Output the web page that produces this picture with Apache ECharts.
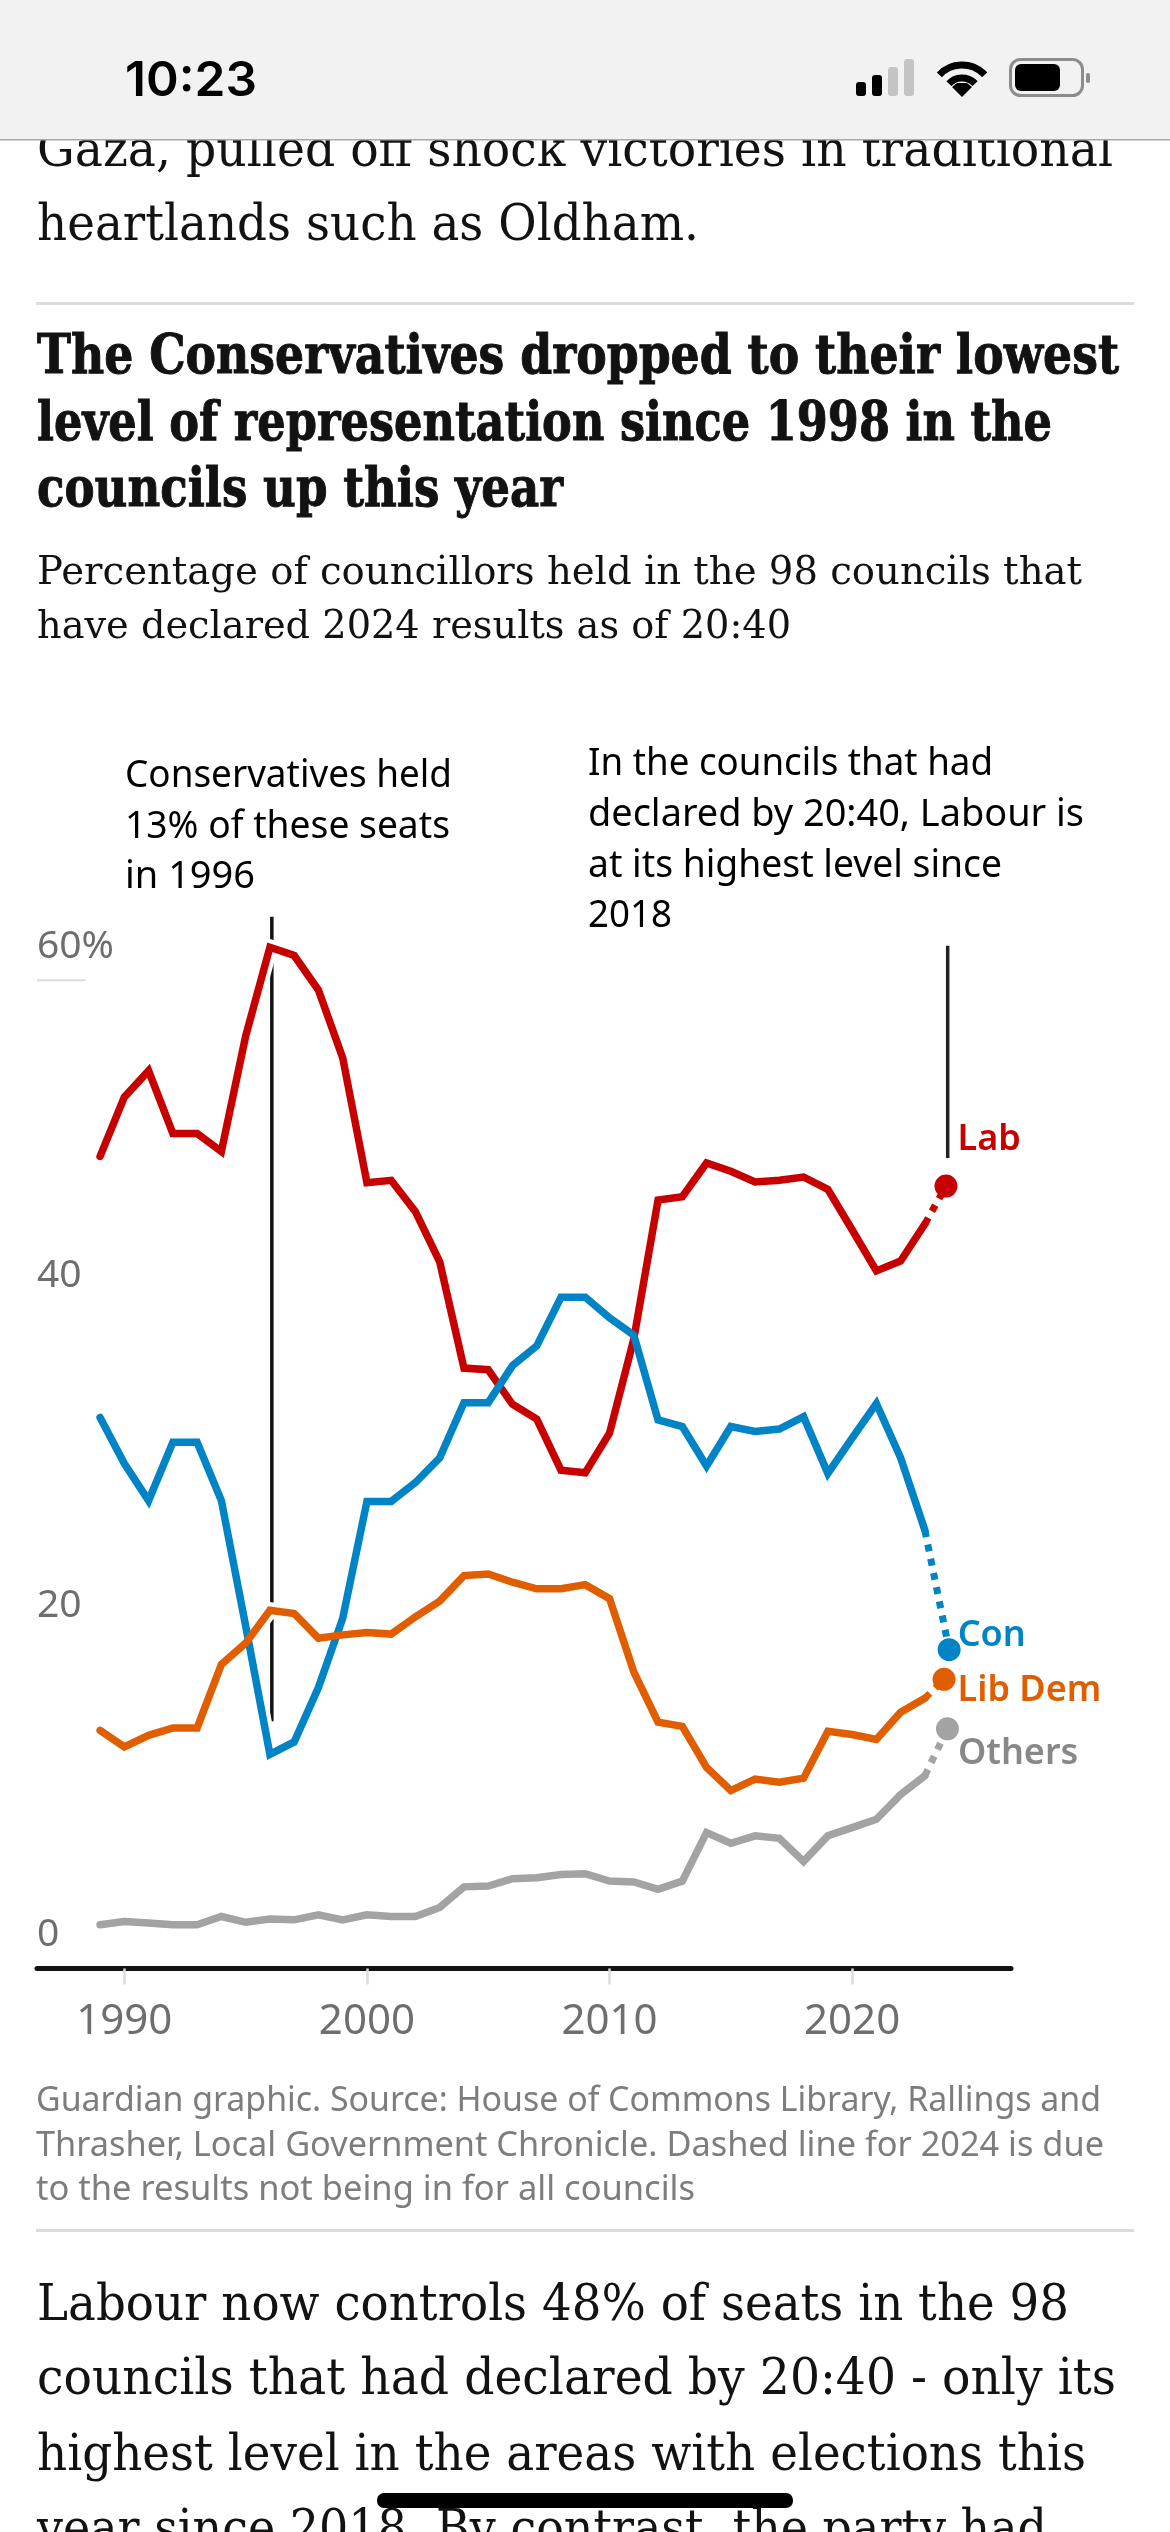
<!DOCTYPE html>
<html>
<head>
<meta charset="utf-8">
<script src="https://cdn.jsdelivr.net/npm/echarts@6/dist/echarts.min.js"></script>
<style>html,body{margin:0;padding:0;background:#fff}#c{width:1170px;height:2532px}</style>
</head>
<body>
<div id="c"></div>
<script>
const years = [1989,1990,1991,1992,1993,1994,1995,1996,1997,1998,1999,2000,2001,2002,2003,2004,2005,2006,2007,2008,2009,2010,2011,2012,2013,2014,2015,2016,2017,2018,2019,2020,2021,2022,2023];
const labValues = [49.3,52.9,54.5,50.7,50.7,49.6,56.6,62.0,61.5,59.4,55.3,47.7,47.85,45.95,42.9,36.45,36.35,34.25,33.35,30.25,30.1,32.5,38.2,46.65,46.85,48.9,48.4,47.75,47.85,48.05,47.3,44.85,42.35,42.95,45.2];
const conValues = [33.45,30.65,28.4,31.95,31.95,28.4,20.8,13.0,13.75,17.05,21.25,28.35,28.35,29.5,31.0,34.35,34.35,36.6,37.8,40.75,40.75,39.5,38.45,33.3,32.9,30.5,32.9,32.6,32.75,33.5,30.05,32.2,34.3,31.0,26.6];
const libDemValues = [14.45,13.45,14.15,14.6,14.6,18.45,19.75,21.75,21.55,20.05,20.25,20.4,20.3,21.35,22.3,23.85,23.95,23.45,23.05,23.05,23.3,22.45,18.0,14.95,14.7,12.2,10.8,11.5,11.3,11.55,14.4,14.2,13.9,15.55,16.4];
const othersValues = [2.65,2.85,2.75,2.65,2.65,3.15,2.8,3.0,2.95,3.25,2.95,3.25,3.15,3.15,3.7,4.95,5.0,5.45,5.5,5.7,5.75,5.3,5.25,4.8,5.3,8.25,7.6,8.05,7.9,6.5,8.05,8.55,9.05,10.55,11.7];
const latest = {Lab:[2023.87,47.5], Con:[2024,19.35], LibDem:[2023.79,17.55], Others:[2023.93,14.55]};
const xTicks = [1990,2000,2010,2020];
const yTicks = [0,20,40,60];
const note1996 = [[1996.08,63.85],[1996.08,15]];
const note2024 = [[2023.94,62.1],[2023.94,49.2]];
const tick60 = [[1986.4,60],[1988.4,60]];

const colors = {Lab:'#c70000', Con:'#0084c6', LibDem:'#e05e00', Others:'#a3a3a3'};
const labelColors = {Lab:'#c70000', Con:'#0084c6', LibDem:'#e05e00', Others:'#888888'};

const chart = echarts.init(document.getElementById('c'), null, {renderer:'canvas', width:1170, height:2532});
const ctx = document.createElement('canvas').getContext('2d');
const SERIF = '"DejaVu Serif"', SANS = '"Noto Sans"';

function line(text, x, baseline, right, size, family, fill, weight, z, heavy){
  ctx.font = (weight||'normal')+' '+size+'px '+family;
  const w = ctx.measureText(text).width;
  const style = {text:text, fontSize:size, fontFamily:family, fontWeight:weight||'normal', fill:fill, align:'left', verticalAlign:'middle'};
  if (heavy) { style.stroke = fill; style.lineWidth = heavy; }
  return {type:'text', x:x, y:baseline-0.36*size+3.5, z:z||5, scaleX:(right-x)/w, silent:true, style:style};
}
const rect = (x,y,w,h,fill,r,z)=>({type:'rect', z:z||5, silent:true, shape:{x,y,width:w,height:h,r:r||0}, style:{fill}});

const page = [
  line('Gaza, pulled off shock victories in traditional',37,168,1113,50,SERIF,'#121212'),
  line('heartlands such as Oldham.',37,242,699,50,SERIF,'#121212'),
  rect(36,302,1098,3,'#dcdcdc'),
  line('The Conservatives dropped to their lowest',37,375,1119,54,SERIF,'#121212','bold',5,1),
  line('level of representation since 1998 in the',37,442,1052,54,SERIF,'#121212','bold',5,1),
  line('councils up this year',37,508,563,54,SERIF,'#121212','bold',5,1),
  line('Percentage of councillors held in the 98 councils that',37,585,1082,40,SERIF,'#121212'),
  line('have declared 2024 results as of 20:40',37,639,791,40,SERIF,'#121212'),
  line('Conservatives held',125,786,452,38,SANS,'#000'),
  line('13% of these seats',125,837,450,38,SANS,'#000'),
  line('in 1996',125,887,255,38,SANS,'#000'),
  line('In the councils that had',588,774,993,38,SANS,'#000'),
  line('declared by 20:40, Labour is',588,825,1084,38,SANS,'#000'),
  line('at its highest level since',588,876,1002,38,SANS,'#000'),
  line('2018',588,926,672,38,SANS,'#000'),
  line('Guardian graphic. Source: House of Commons Library, Rallings and',36,2110,1101,35,SANS,'#7d7d7d'),
  line('Thrasher, Local Government Chronicle. Dashed line for 2024 is due',36,2155,1104,35,SANS,'#7d7d7d'),
  line('to the results not being in for all councils',36,2199,695,35,SANS,'#7d7d7d'),
  rect(36,2229,1098,3,'#dcdcdc'),
  line('Labour now controls 48% of seats in the 98',37,2322,1069,50,SERIF,'#121212'),
  line('councils that had declared by 20:40 - only its',37,2396,1116,50,SERIF,'#121212'),
  line('highest level in the areas with elections this',37,2472,1086,50,SERIF,'#121212'),
  line('year since 2018. By contrast, the party had',37,2547,1047,50,SERIF,'#121212'),
  rect(377,2493,416,15,'#000',7,60),
  // status bar
  rect(0,0,1170,140,'#f2f2f2',0,50),
  rect(0,139,1170,1.5,'#a8a8a8',0,51),
  line('10:23',125,95,257,48,'Inter','#000','600',52),
  rect(856,82,10,14,'#000',3,52),
  rect(872,75,10,21,'#000',3,52),
  rect(888,67,10,29,'#c4c4c4',3,52),
  rect(904,59,10,37,'#c4c4c4',3,52),
  {type:'arc', z:52, silent:true, shape:{cx:962,cy:96,r:31,startAngle:-Math.PI*0.76,endAngle:-Math.PI*0.24}, style:{stroke:'#000',lineWidth:7,fill:null}},
  {type:'arc', z:52, silent:true, shape:{cx:962,cy:96,r:18,startAngle:-Math.PI*0.76,endAngle:-Math.PI*0.24}, style:{stroke:'#000',lineWidth:7,fill:null}},
  {type:'polygon', z:52, silent:true, shape:{points:[[962,97],[952,87],[957,83],[967,83],[972,87]]}, style:{fill:'#000'}},
  {type:'rect', z:52, silent:true, shape:{x:1010.5,y:59.5,width:72,height:36,r:10}, style:{fill:null,stroke:'#8c8c8c',lineWidth:3}},
  rect(1015,64,45,27,'#000',6,53),
  rect(1086,73,4,10,'#8c8c8c',2,52)
];

function trend(values){ return values.map((v,i)=>[years[i],v]); }
const entries = [['Lab',labValues,'Lab',[0,-46.5]],['Con',conValues,'Con',[-3,-13.5]],['LibDem',libDemValues,'Lib Dem',[2,11.5]],['Others',othersValues,'Others',[-1,24.5]]];

const series = [];
series.push({type:'line', data:tick60, symbol:'none', z:1, silent:true, lineStyle:{color:'#dcdcdc',width:2}});
series.push({type:'line', data:note1996, symbol:'none', z:1, silent:true, lineStyle:{color:'#121212',width:3.5,cap:'butt'}});
series.push({type:'line', data:note2024, symbol:'none', z:1, silent:true, lineStyle:{color:'#222222',width:3.5,cap:'butt'}});
entries.forEach(([key,vals,label,off])=>{
  const pts = trend(vals);
  series.push({type:'line', data:pts, symbol:'none', z:2, silent:true, lineStyle:{color:'#fff',width:16,join:'miter'}});
  series.push({type:'line', name:label, data:pts, symbol:'none', z:3, silent:true, lineStyle:{color:colors[key],width:7.5,join:'miter',cap:'round'}});
  series.push({type:'line', data:[pts[pts.length-1],latest[key]], symbol:'none', z:3, silent:true, lineStyle:{color:colors[key],width:7,type:[7,7.5],cap:'butt'}});
  series.push({type:'scatter', data:[latest[key]], symbol:'circle', symbolSize:23, z:4, silent:true, itemStyle:{color:colors[key],opacity:1},
    label:{show:true, formatter:label, position:'right', distance:0, offset:off, color:labelColors[key], opacity:1, fontFamily:SANS, fontSize:36, fontWeight:600}});
});

chart.setOption({
  animation:false,
  backgroundColor:'#fff',
  grid:{left:37, right:159, top:881.4, bottom:563.6, containLabel:false},
  xAxis:{type:'value', min:1986.4, max:2026.55, splitLine:{show:false},
    axisLine:{show:true,onZero:false,lineStyle:{color:'#121212',width:5}},
    axisTick:{show:true,length:16,customValues:xTicks,lineStyle:{color:'#dcdcdc',width:2.5}},
    axisLabel:{customValues:xTicks,color:'#6e6e6e',fontFamily:SANS,fontSize:42,margin:33,formatter:v=>String(v)}},
  yAxis:{type:'value', min:0, max:66, splitLine:{show:false}, axisLine:{show:false}, axisTick:{show:false},
    axisLabel:{customValues:yTicks,inside:true,margin:0,align:'left',verticalAlign:'bottom',padding:[0,0,14,0],color:'#6e6e6e',fontFamily:SANS,fontSize:39,formatter:v=>v===60?'60%':String(v)}},
  series:series,
  graphic:{elements:page}
});
</script>
</body>
</html>
